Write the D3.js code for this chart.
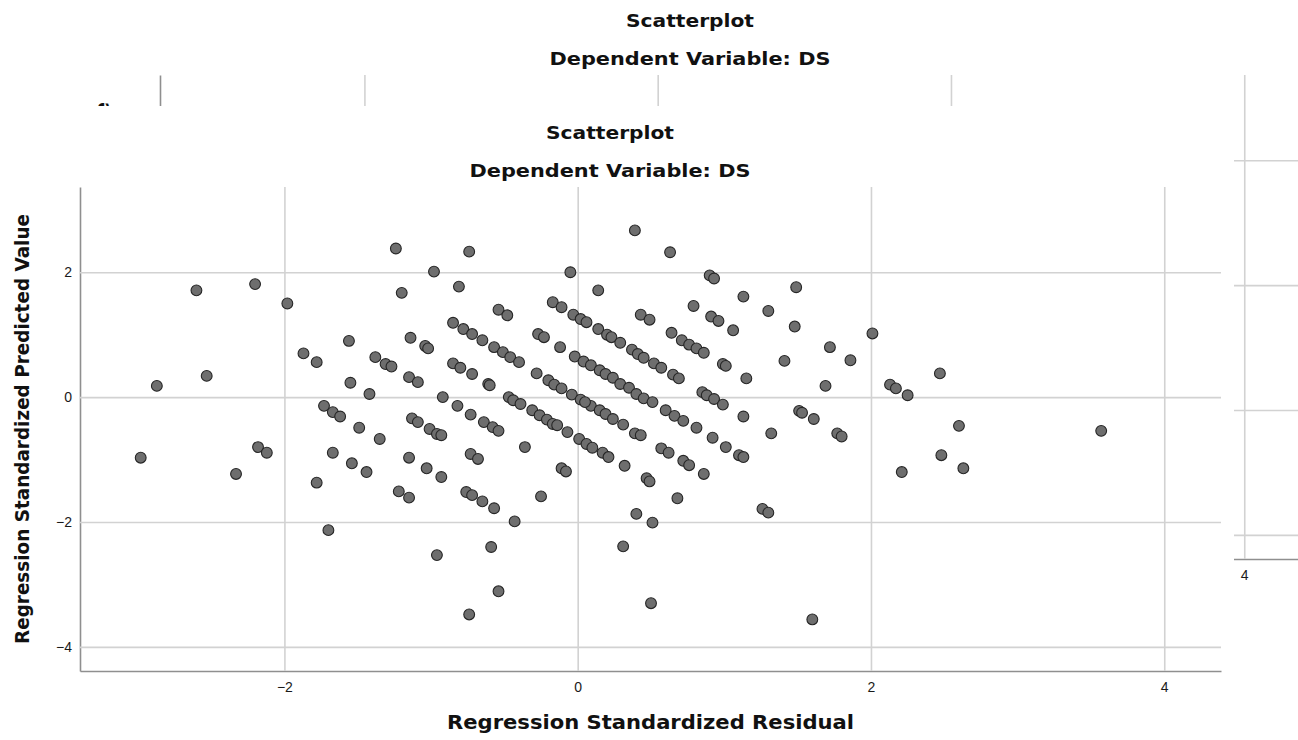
<!DOCTYPE html>
<html>
<head>
<meta charset="utf-8">
<script src="https://cdn.jsdelivr.net/npm/d3@7"></script>
<style>
  body { margin: 0; background: #fff; }
  svg { display: block; }
</style>
</head>
<body>
<div id="chart"></div>
<script>
var chartTitle = "Scatterplot";
var chartSubtitle = "Dependent Variable: DS";
var xTitle = "Regression Standardized Residual";
var yTitle = "Regression Standardized Predicted Value";

var xTicks = [-2, 0, 2, 4];
var yTicks = [-4, -2, 0, 2];

// regression standardized residual (x)
var resid = [
  -1.24,-2.60,-2.20,-1.98,-1.20,-1.56,-1.87,-1.78,-1.38,-1.31,
  -1.27,-1.55,-1.42,-2.53,-2.87,-1.73,-1.67,-1.62,-1.49,-1.35,
  -0.74,-0.98,-0.05,-0.81,-0.54,-0.48,-0.17,-0.11,-0.03,0.02,
  0.06,0.14,0.14,-0.85,-0.78,-0.72,-0.65,-0.57,-0.51,-0.46,
  -0.40,-0.27,-0.23,-0.12,-0.02,0.04,0.09,-1.14,-1.04,-1.02,
  -0.85,-0.80,-0.72,-0.61,-0.60,-0.28,-0.20,-0.16,-0.11,-0.04,
  0.02,0.09,-1.15,-1.09,-0.92,-0.82,-0.73,-0.47,-0.44,-0.39,
  -0.31,-0.26,-0.21,-0.17,-0.14,-0.07,0.01,-1.13,-1.09,-1.01,
  -0.96,-0.93,-0.64,-0.58,-0.54,0.39,0.63,0.90,0.93,1.13,
  1.49,0.79,1.30,0.43,0.49,0.91,0.96,1.06,1.48,0.20,
  0.23,0.29,0.64,0.71,0.76,0.81,0.86,0.37,0.41,0.45,
  0.52,0.57,0.99,1.01,1.41,0.65,0.69,1.15,0.15,0.19,
  0.24,0.29,0.35,0.40,0.45,0.51,0.85,0.88,0.93,0.99,
  0.15,0.19,0.24,0.31,0.60,0.66,0.72,0.81,1.13,1.51,
  1.53,0.39,0.43,0.92,1.32,2.01,1.72,1.86,1.69,2.47,
  2.13,2.17,2.25,1.61,1.77,1.80,2.60,3.57,2.48,2.63,
  2.21,1.60,-2.98,-2.18,-2.12,-2.33,-1.67,-1.54,-1.44,-1.15,
  -1.78,-1.22,-1.15,-1.70,-0.73,-0.68,-0.36,-1.03,-0.93,-0.76,
  -0.72,-0.65,-0.57,-0.43,-0.25,-0.11,-0.08,0.06,0.10,0.17,
  0.21,0.32,0.57,0.62,0.72,0.76,0.86,1.01,1.10,1.13,
  0.47,0.49,0.68,0.40,0.51,1.26,1.30,-0.96,-0.59,0.31,
  -0.54,-0.74,0.50,0.05
];

// regression standardized predicted value (y)
var predicted = [
  2.38,1.71,1.81,1.50,1.67,0.90,0.70,0.56,0.64,0.53,
  0.49,0.23,0.05,0.34,0.18,-0.14,-0.24,-0.31,-0.49,-0.67,
  2.33,2.01,2.00,1.77,1.40,1.31,1.52,1.44,1.32,1.25,
  1.20,1.09,1.71,1.19,1.09,1.01,0.91,0.80,0.72,0.64,
  0.56,1.01,0.96,0.80,0.65,0.57,0.51,0.95,0.82,0.78,
  0.54,0.47,0.37,0.21,0.19,0.38,0.27,0.20,0.14,0.04,
  -0.04,-0.14,0.32,0.24,0.00,-0.14,-0.28,0.00,-0.05,-0.11,
  -0.21,-0.29,-0.36,-0.43,-0.45,-0.56,-0.67,-0.34,-0.40,-0.51,
  -0.59,-0.61,-0.40,-0.48,-0.54,2.67,2.32,1.95,1.90,1.61,
  1.76,1.46,1.38,1.32,1.24,1.29,1.22,1.07,1.13,1.00,
  0.96,0.87,1.03,0.91,0.84,0.78,0.71,0.76,0.69,0.63,
  0.54,0.47,0.53,0.50,0.58,0.36,0.30,0.30,0.43,0.37,
  0.31,0.21,0.15,0.05,-0.02,-0.08,0.08,0.03,-0.03,-0.12,
  -0.21,-0.27,-0.35,-0.44,-0.21,-0.30,-0.38,-0.49,-0.31,-0.22,
  -0.25,-0.58,-0.61,-0.65,-0.58,1.02,0.80,0.59,0.18,0.38,
  0.20,0.14,0.03,-0.35,-0.58,-0.63,-0.46,-0.54,-0.93,-1.14,
  -1.20,-3.56,-0.97,-0.80,-0.89,-1.23,-0.89,-1.06,-1.20,-0.97,
  -1.37,-1.51,-1.61,-2.13,-0.91,-0.99,-0.80,-1.14,-1.28,-1.52,
  -1.57,-1.67,-1.78,-1.99,-1.59,-1.14,-1.19,-0.75,-0.81,-0.89,
  -0.96,-1.10,-0.82,-0.89,-1.02,-1.09,-1.23,-0.80,-0.93,-0.96,
  -1.30,-1.35,-1.62,-1.87,-2.01,-1.79,-1.85,-2.53,-2.40,-2.39,
  -3.11,-3.48,-3.30,-0.08
];

var points = resid.map(function(r, i) { return [r, predicted[i]]; });

var width = 1298, height = 740;
var margin = {left: 80, top: 187};
var plotW = 1141, plotH = 484;

var xScale = d3.scaleLinear().domain([-3.394, 4.387]).range([0, plotW]);
var yScale = d3.scaleLinear().domain([-4.386, 3.365]).range([plotH, 0]);

var svg = d3.select("#chart").append("svg")
  .attr("width", width)
  .attr("height", height);

function drawChart(root) {
  var titleX = 610;

  root.append("text")
    .attr("x", titleX).attr("y", 139)
    .attr("text-anchor", "middle")
    .attr("textLength", 128).attr("lengthAdjust", "spacingAndGlyphs")
    .style("font-family", "DejaVu Sans").style("font-weight", "bold")
    .style("font-size", "18px").style("fill", "#111")
    .text(chartTitle);

  root.append("text")
    .attr("x", titleX).attr("y", 177)
    .attr("text-anchor", "middle")
    .attr("textLength", 281).attr("lengthAdjust", "spacingAndGlyphs")
    .style("font-family", "DejaVu Sans").style("font-weight", "bold")
    .style("font-size", "18px").style("fill", "#111")
    .text(chartSubtitle);

  var g = root.append("g")
    .attr("transform", "translate(" + margin.left + "," + margin.top + ")");

  var xAxis = g.append("g")
    .attr("class", "x-axis")
    .attr("transform", "translate(0," + plotH + ")")
    .call(d3.axisBottom(xScale).tickValues(xTicks).tickSize(-plotH).tickSizeOuter(0).tickPadding(11));

  var yAxis = g.append("g")
    .attr("class", "y-axis")
    .call(d3.axisLeft(yScale).tickValues(yTicks).tickSize(-plotW).tickSizeOuter(0).tickPadding(8));

  g.selectAll(".tick line")
    .attr("stroke", "#d2d2d2")
    .attr("stroke-width", 1.6);

  g.selectAll(".tick text")
    .style("font-family", "Liberation Sans")
    .style("font-size", "14px")
    .style("fill", "#1a1a1a");

  g.selectAll(".domain")
    .attr("stroke", "#8f8f8f")
    .attr("stroke-width", 1.6);

  g.selectAll(".dot")
    .data(points)
    .enter().append("circle")
    .attr("class", "dot")
    .attr("cx", function(d) { return xScale(d[0]); })
    .attr("cy", function(d) { return yScale(d[1]); })
    .attr("r", 5.4)
    .attr("fill", "#6e6e6e")
    .attr("stroke", "#262626")
    .attr("stroke-width", 1.1);

  root.append("text")
    .attr("x", margin.left + plotW / 2).attr("y", 729)
    .attr("text-anchor", "middle")
    .attr("textLength", 407).attr("lengthAdjust", "spacingAndGlyphs")
    .style("font-family", "DejaVu Sans").style("font-weight", "bold")
    .style("font-size", "19px").style("fill", "#111")
    .text(xTitle);

  root.append("text")
    .attr("transform", "translate(29," + (margin.top + plotH / 2) + ") rotate(-90)")
    .attr("text-anchor", "middle")
    .attr("textLength", 430).attr("lengthAdjust", "spacingAndGlyphs")
    .style("font-family", "DejaVu Sans").style("font-weight", "bold")
    .style("font-size", "19px").style("fill", "#111")
    .text(yTitle);
}

// older copy of the same chart peeking out behind
var back = svg.append("g").attr("transform", "translate(80,-112)");
drawChart(back);

svg.append("rect")
  .attr("x", 0).attr("y", 106)
  .attr("width", 1234).attr("height", height - 106)
  .attr("fill", "#fff");

var front = svg.append("g");
drawChart(front);
</script>
</body>
</html>
